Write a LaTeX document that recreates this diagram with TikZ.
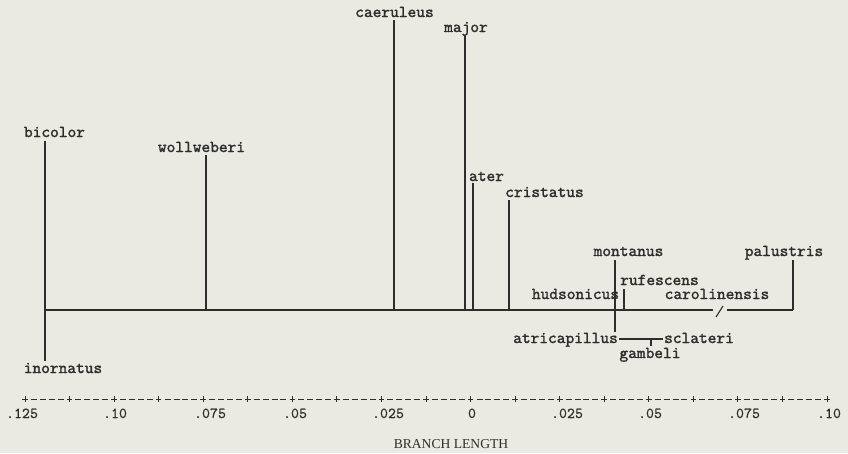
\documentclass[tikz,border=0pt]{standalone}
\usepackage{fontspec}
\setmainfont{Liberation Serif}
\newfontfamily\lblfont{lmmono10-regular.otf}[FakeBold=1.6]
\newfontfamily\axfont{lmmono10-regular.otf}[FakeBold=0.6]
\definecolor{bg}{RGB}{234,234,226}
\definecolor{ink}{RGB}{45,45,45}
\begin{document}
\begin{tikzpicture}[x=1pt,y=-1pt,
  lbl/.style={font=\lblfont\bfseries\fontsize{16.6}{18}\selectfont, text=ink, inner sep=0pt, anchor=base},
  axl/.style={font=\axfont\fontsize{15.2}{17}\selectfont, text=ink, inner sep=0pt, anchor=base},
  br/.style={draw=ink, line width=1.1pt},
  tk/.style={draw=ink, line width=1pt}]
\fill[bg] (0,0) rectangle (848,453);
\useasboundingbox (0,0) rectangle (848,453);

% labels
\node[lbl] (bicolor) at (54.5,137) {bicolor};
\node[lbl] (wollweberi) at (201.5,152) {wollweberi};
\node[lbl] (caeruleus) at (394.5,17) {caeruleus};
\node[lbl] (major) at (466,32) {major};
\node[lbl] (ater) at (486.5,181) {ater};
\node[lbl] (cristatus) at (544.5,197) {cristatus};
\node[lbl] (montanus) at (628.5,256) {montanus};
\node[lbl] (palustris) at (784,256) {palustris};
\node[lbl] (rufescens) at (659.5,285) {rufescens};
\node[lbl] (hudsonicus) at (575.5,299) {hudsonicus};
\node[lbl] (carolinensis) at (717,299) {carolinensis};
\node[lbl] (atricapillus) at (565.5,343) {atricapillus};
\node[lbl] (sclateri) at (699,343) {sclateri};
\node[lbl] (gambeli) at (650,358) {gambeli};
\node[lbl] (inornatus) at (63,373) {inornatus};

% tip and base coordinates
\coordinate (tBic) at (45,141);   \coordinate (bBic) at (45,310);
\coordinate (tIno) at (45,361);
\coordinate (tWol) at (206,155);  \coordinate (bWol) at (206,310);
\coordinate (tCae) at (394,20);   \coordinate (bCae) at (394,310);
\coordinate (tMaj) at (465,35);   \coordinate (bMaj) at (465,310);
\coordinate (tAte) at (473,183);  \coordinate (bAte) at (473,310);
\coordinate (tCri) at (509,200);  \coordinate (bCri) at (509,310);
\coordinate (tMon) at (615,260);  \coordinate (eMon) at (615,332);
\coordinate (tRuf) at (624,289);  \coordinate (bRuf) at (624,310);
\coordinate (tPal) at (793,260);  \coordinate (bPal) at (793,310);
\coordinate (gapL) at (713,310);  \coordinate (gapR) at (727,310);
\coordinate (slA) at (716,317);   \coordinate (slB) at (723,306);
\coordinate (aL) at (619,339);    \coordinate (aR) at (663,339);
\coordinate (gT) at (651,339);    \coordinate (gB) at (651,346);

% branches
\draw[br] (tBic) -- (bBic) -- (tIno);
\draw[br] (tWol) -- (bWol);
\draw[br] (tCae) -- (bCae);
\draw[br] (tMaj) -- (bMaj);
\draw[br] (tAte) -- (bAte);
\draw[br] (tCri) -- (bCri);
\draw[br] (tMon) -- (eMon);
\draw[br] (tRuf) -- (bRuf);
\draw[br] (tPal) -- (bPal);
\draw[br] (bBic) -- (gapL);
\draw[br] (gapR) -- (bPal);
\draw[br] (slA) -- (slB);
\draw[br] (aL) -- (aR);
\draw[br] (gT) -- (gB);

% axis
\foreach \i in {0,...,18} {
  \pgfmathsetmacro{\xx}{25+44.56*\i}
  \draw[tk] (\xx-2.8,399) -- (\xx+2.8,399);
  \draw[tk] (\xx,396.2) -- (\xx,401.8);
}
\foreach \i in {0,...,17} {
  \foreach \j in {1,...,4} {
    \pgfmathsetmacro{\xx}{25+44.56*\i+8.912*\j}
    \draw[tk] (\xx-3,399) -- (\xx+3,399);
  }
}
\node[axl] (a1) at (22,418) {.125};
\node[axl] (a2) at (115,418) {.10};
\node[axl] (a3) at (210,418) {.075};
\node[axl] (a4) at (295,418) {.05};
\node[axl] (a5) at (388,418) {.025};
\node[axl] (a6) at (472,418) {0};
\node[axl] (a7) at (567,418) {.025};
\node[axl] (a8) at (650,418) {.05};
\node[axl] (a9) at (744,418) {.075};
\node[axl] (a10) at (829,418) {.10};
\node[font=\fontsize{13.6}{15}\selectfont, text=ink, inner sep=0pt, anchor=base] (title) at (451,448) {BRANCH LENGTH};
\end{tikzpicture}
\end{document}
